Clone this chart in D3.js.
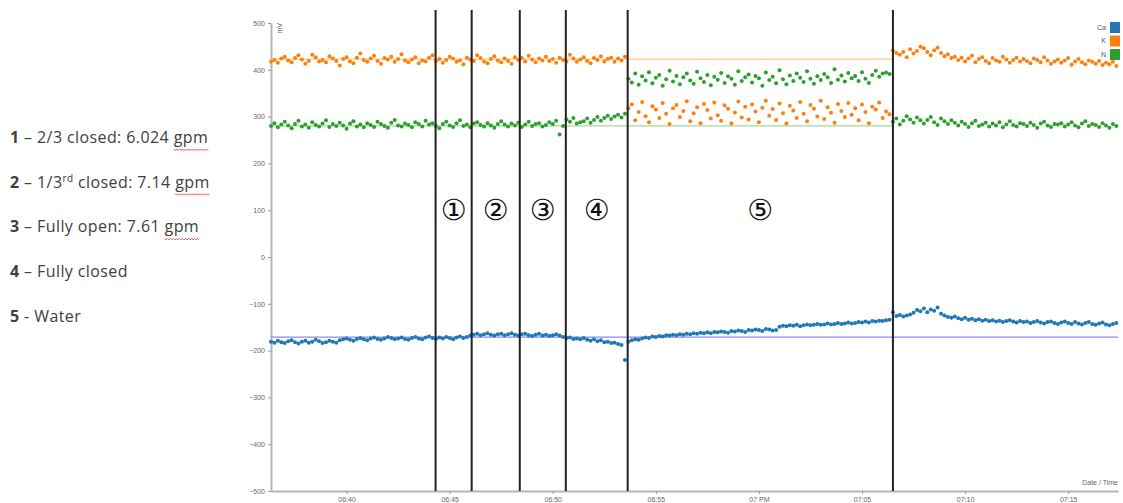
<!DOCTYPE html>
<html>
<head>
<meta charset="utf-8">
<script src="https://cdn.jsdelivr.net/npm/d3@7"></script>
<style>
  body { margin: 0; background: #fff; }
  svg { display: block; }
</style>
</head>
<body>
<div id="chart"></div>
<script>
// readings every 10 s starting at 06:36:20 PM
const startTime = '18:36:20';
const stepSeconds = 10;

const caValues = [
  -181,-183,-179,-182,-184,-180,-178,-182,-185,-181,
  -179,-183,-181,-177,-180,-184,-182,-179,-181,-183,
  -178,-176,-174,-177,-179,-175,-173,-176,-178,-174,
  -172,-175,-177,-174,-171,-173,-176,-174,-172,-175,
  -177,-173,-171,-174,-176,-172,-170,-173,-175,-172,
  -174,-171,-173,-176,-172,-170,-173,-171,-168,-166,
  -164,-167,-165,-163,-166,-168,-165,-164,-167,-165,
  -163,-166,-168,-165,-164,-167,-169,-166,-164,-168,
  -166,-169,-167,-165,-168,-171,-173,-172,-175,-174,
  -176,-173,-177,-179,-176,-180,-178,-182,-181,-184,
  -183,-186,-188,-220,-181,-178,-176,-177,-174,-172,
  -173,-170,-171,-169,-170,-167,-168,-166,-167,-165,
  -166,-164,-165,-163,-164,-162,-163,-161,-163,-160,
  -161,-159,-160,-162,-158,-159,-157,-158,-160,-156,
  -157,-155,-156,-158,-154,-155,-157,-156,-149,-147,
  -148,-146,-147,-145,-148,-146,-144,-146,-145,-143,
  -145,-144,-142,-144,-143,-141,-143,-142,-140,-142,
  -141,-139,-140,-138,-140,-137,-138,-136,-137,-135,
  -134,-118,-126,-124,-127,-125,-123,-119,-113,-116,
  -110,-118,-112,-115,-108,-121,-125,-128,-130,-127,
  -131,-133,-130,-134,-132,-135,-133,-136,-134,-137,
  -135,-138,-136,-139,-137,-135,-138,-140,-137,-139,
  -138,-141,-139,-137,-140,-142,-139,-138,-141,-143,
  -140,-138,-141,-143,-139,-142,-144,-141,-139,-143,
  -145,-142,-140,-144,-146,-143,-141
];

const kValues = [
  418,421,415,424,428,420,416,425,431,422,
  413,419,432,427,418,421,416,429,424,419,
  409,423,427,418,414,426,435,421,417,424,
  430,419,413,425,422,428,417,423,433,420,
  416,422,427,414,420,418,426,431,419,423,
  415,421,428,424,417,420,412,426,422,419,
  431,425,418,414,423,429,420,416,424,419,
  413,427,421,425,418,430,422,416,424,420,
  428,419,423,415,426,421,418,432,424,417,
  422,427,419,414,425,421,429,418,423,426,
  417,424,420,428,318,326,292,310,331,301,
  288,322,315,297,329,306,284,318,325,299,
  312,333,290,307,320,286,327,314,296,330,
  303,291,324,317,285,309,332,298,321,294,
  326,311,288,319,334,302,316,293,328,307,
  285,323,313,297,331,306,290,325,317,300,
  334,295,320,308,287,327,312,299,329,304,
  318,292,326,310,286,321,315,330,297,311,
  305,441,436,432,438,427,444,435,440,449,
  446,438,431,442,447,436,429,433,425,428,
  421,426,418,424,430,416,423,427,419,414,
  425,420,417,428,422,415,421,426,418,423,
  419,414,424,421,416,427,420,413,418,422,
  415,420,425,411,418,423,416,412,420,417,
  413,419,410,415,412,417,408
];

const nValues = [
  280,286,277,283,289,281,275,284,291,279,
  283,276,288,282,279,285,292,278,284,280,
  287,281,274,285,290,279,283,277,286,282,
  278,289,284,280,276,287,293,281,279,285,
  282,277,288,284,279,291,283,286,280,275,
  284,289,281,278,286,292,280,283,277,285,
  288,282,279,286,281,276,284,290,283,279,
  285,281,287,278,283,289,280,284,286,279,
  282,288,284,291,262,280,294,289,297,285,
  288,290,296,287,293,299,291,297,302,295,
  300,304,298,306,381,373,392,368,386,377,
  395,371,383,389,366,380,398,375,387,369,
  384,392,377,370,396,382,374,389,367,385,
  379,393,372,386,381,368,397,376,384,390,
  373,387,382,366,394,378,385,371,399,380,
  369,388,376,392,383,374,397,381,370,386,
  378,391,384,372,401,379,388,375,393,382,
  387,376,395,381,372,389,398,385,392,394,
  391,289,296,283,291,301,294,287,298,292,
  285,293,299,288,282,296,290,284,292,287,
  281,289,284,278,286,291,280,283,287,279,
  285,281,288,277,283,290,282,279,286,284,
  280,287,282,276,285,289,281,278,284,283,
  286,279,283,288,281,277,285,290,280,284,
  282,278,286,281,276,284,280
];

const seriesNames = ['Ca', 'K', 'N'];
const seriesColors = ['#1f77b4', '#ff7f0e', '#2ca02c'];
const refLevels = [-171, 423, 280];
const refColors = ['#8a8af0', '#ffc98a', '#a3d99b'];

const eventTimes = ['18:44:19', '18:46:04', '18:48:24', '18:50:38', '18:53:38', '19:06:30'];
const zoneLabels = ['\u2460', '\u2461', '\u2462', '\u2463', '\u2464'];

const notes = [
  { num: '1', parts: [[' \u2013 2/3 closed: 6.024 ', ''], ['gpm', 'spell']] },
  { num: '2', parts: [[' \u2013 1/3', ''], ['rd', 'sup'], [' closed: 7.14 ', 'down'], ['gpm', 'spell']] },
  { num: '3', parts: [[' \u2013 Fully open: 7.61 ', ''], ['gpm', 'spell']] },
  { num: '4', parts: [[' \u2013 Fully closed', '']] },
  { num: '5', parts: [[' - Water', '']] }
];

const W = 1123, H = 503;
const plot = { left: 271, right: 1118, top: 23, bottom: 491 };

const parseT = d3.timeParse('%Y-%m-%d %H:%M:%S');
const t0 = parseT('2015-06-01 ' + startTime);
const tAt = s => parseT('2015-06-01 ' + s);

const svg = d3.select('#chart').append('svg')
  .attr('width', W).attr('height', H);

const x = d3.scaleTime()
  .domain([t0, tAt('19:17:25')])
  .range([plot.left, plot.right]);

const y = d3.scaleLinear()
  .domain([-500, 500])
  .range([plot.bottom, plot.top]);

// axes
const xAxis = svg.append('g')
  .attr('transform', 'translate(0,' + plot.bottom + ')')
  .call(d3.axisBottom(x).ticks(d3.timeMinute.every(5)).tickSize(3).tickSizeOuter(0));

const yAxis = svg.append('g')
  .attr('transform', 'translate(' + plot.left + ',0)')
  .call(d3.axisLeft(y).tickValues(d3.range(-500, 501, 100)).tickSize(3).tickSizeOuter(0));

[xAxis, yAxis].forEach(a => {
  a.select('.domain').attr('stroke', '#b5b5b5').attr('stroke-width', 2);
  a.selectAll('.tick line').attr('stroke', '#999');
  a.selectAll('.tick text')
    .attr('fill', '#666')
    .style('font-family', 'Liberation Sans, Arial, sans-serif')
    .style('font-size', '7px');
});

yAxis.append('text')
  .attr('transform', 'rotate(-90)')
  .attr('x', -plot.top)
  .attr('y', 6)
  .attr('dy', '.71em')
  .attr('text-anchor', 'end')
  .attr('fill', '#666')
  .style('font-family', 'Liberation Sans, Arial, sans-serif')
  .style('font-size', '7px')
  .text('mV');

xAxis.append('text')
  .attr('x', plot.right)
  .attr('y', -6)
  .attr('text-anchor', 'end')
  .attr('fill', '#666')
  .style('font-family', 'Liberation Sans, Arial, sans-serif')
  .style('font-size', '7px')
  .text('Date / Time');

// reference levels
const lastEvent = tAt(eventTimes[eventTimes.length - 1]);
refLevels.forEach((v, i) => {
  svg.append('line')
    .attr('x1', plot.left)
    .attr('x2', i === 0 ? plot.right : x(lastEvent))
    .attr('y1', y(v)).attr('y2', y(v))
    .attr('stroke', refColors[i])
    .attr('stroke-width', 1.2);
});

// dots
const allSeries = [caValues, kValues, nValues];
allSeries.forEach((vals, si) => {
  svg.append('g')
    .selectAll('circle')
    .data(vals)
    .enter()
    .append('circle')
    .attr('cx', (d, i) => x(d3.timeSecond.offset(t0, i * stepSeconds)))
    .attr('cy', d => y(d))
    .attr('r', 2)
    .attr('fill', seriesColors[si]);
});

// event lines
const evX = eventTimes.map(t => x(tAt(t)));
svg.append('g')
  .selectAll('line')
  .data(evX)
  .enter()
  .append('line')
  .attr('x1', d => d).attr('x2', d => d)
  .attr('y1', 10).attr('y2', plot.bottom)
  .attr('stroke', '#222')
  .attr('stroke-width', 2);

svg.append('g')
  .selectAll('text')
  .data(zoneLabels)
  .enter()
  .append('text')
  .attr('x', (d, i) => (evX[i] + evX[i + 1]) / 2)
  .attr('y', 210)
  .attr('text-anchor', 'middle')
  .attr('dominant-baseline', 'central')
  .attr('fill', '#111')
  .style('font-family', 'DejaVu Sans, sans-serif')
  .style('font-size', '29px')
  .text(d => d);

// legend
const legend = svg.append('g')
  .selectAll('g')
  .data(seriesNames)
  .enter()
  .append('g')
  .attr('transform', (d, i) => 'translate(0,' + (22 + i * 13.5) + ')');

legend.append('rect')
  .attr('x', 1110).attr('width', 10).attr('height', 11)
  .attr('fill', (d, i) => seriesColors[i]);

legend.append('text')
  .attr('x', 1106).attr('y', 5.5)
  .attr('dy', '.35em')
  .attr('text-anchor', 'end')
  .attr('fill', '#555')
  .style('font-family', 'Liberation Sans, Arial, sans-serif')
  .style('font-size', '7px')
  .text(d => d);

// notes on the left
const noteG = svg.append('g')
  .style('font-family', 'Open Sans, sans-serif')
  .style('font-size', '16px')
  .style('letter-spacing', '0.4px')
  .attr('fill', '#404040');

notes.forEach((n, i) => {
  const t = noteG.append('text')
    .attr('x', 10)
    .attr('y', 143 + i * 44.7);
  t.append('tspan').attr('font-weight', 'bold').text(n.num);
  n.parts.forEach(p => {
    const s = t.append('tspan').text(p[0]).attr('class', p[1]);
    if (p[1] === 'sup') s.attr('dy', -6).style('font-size', '10px');
    if (p[1] === 'down') s.attr('dy', 6);
  });
});

// red squiggle under "gpm"
noteG.selectAll('tspan.spell').each(function () {
  const b = this.getBBox();
  const yy = b.y + b.height + 1;
  let p = 'M' + b.x + ',' + yy;
  for (let xx = b.x, k = 0; xx < b.x + b.width; xx += 1.5, k++) {
    p += 'L' + (xx + 1.5) + ',' + (yy + (k % 2 ? 0 : 1.5));
  }
  noteG.append('path')
    .attr('d', p)
    .attr('fill', 'none')
    .attr('stroke', '#e03030')
    .attr('stroke-width', 0.8);
});
</script>
</body>
</html>
